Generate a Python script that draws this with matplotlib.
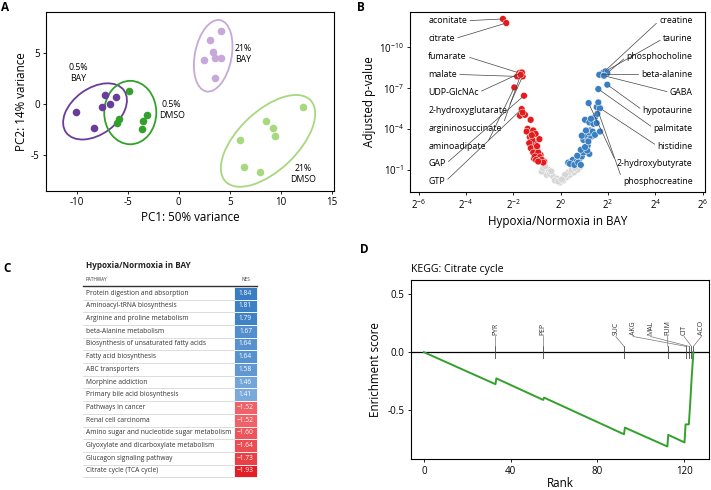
import numpy as np
import matplotlib
matplotlib.use('Agg')
import matplotlib.pyplot as plt
from matplotlib.patches import Ellipse, Rectangle
import matplotlib.colors as mcolors

plt.rcParams['font.family'] = ['Open Sans', 'DejaVu Sans']
plt.rcParams['axes.unicode_minus'] = False
plt.rcParams['mathtext.fontset'] = 'custom'
plt.rcParams['mathtext.rm'] = 'Open Sans'
plt.rcParams['mathtext.it'] = 'Open Sans:italic'
plt.rcParams['mathtext.default'] = 'regular'

# ---------------- data: A (PCA) ----------------
bay05_x = [-10.1, -8.3, -7.5, -7.2, -6.7, -6.1]
bay05_y = [-0.8, -2.3, -0.3, 0.9, 0.0, 0.7]
dmso05_x = [-4.9, -5.9, -6.0, -3.5, -3.6, -3.1]
dmso05_y = [1.3, -1.5, -1.9, -1.7, -2.4, -1.1]
bay21_x = [4.1, 3.1, 3.4, 3.5, 4.15, 2.5, 3.5]
bay21_y = [7.1, 6.3, 5.1, 4.5, 4.5, 4.3, 2.5]
dmso21_x = [12.2, 8.5, 9.2, 9.4, 6.0, 6.4, 8.0]
dmso21_y = [-0.26, -1.67, -2.3, -3.1, -3.5, -6.2, -6.6]
# ellipse: centre x, centre y, width, height, angle
ell_bay05 = (-8.2, -0.72, 7.0, 4.5, 36)
ell_dmso05 = (-4.75, -0.83, 5.1, 6.2, 0)
ell_bay21 = (3.37, 4.72, 7.1, 3.6, 79)
ell_dmso21 = (8.74, -3.6, 11.5, 5.8, 43.6)

# ---------------- data: B (volcano), log2 fold change and -log10 padj ----------------
left_names = ['aconitate', 'citrate', 'fumarate', 'malate', 'UDP-GlcNAc',
              '2-hydroxyglutarate', 'argininosuccinate', 'aminoadipate', 'GAP', 'GTP']
left_lfc = [-2.44, -2.30, -1.75, -1.84, -1.64, -1.61, -1.69, -1.96, -1.55, -1.65]
left_nlp = [12.09, 11.79, 8.12, 7.87, 8.16, 7.87, 7.99, 7.06, 6.45, 5.47]
right_names = ['creatine', 'taurine', 'phosphocholine', 'beta-alanine', 'GABA',
               'hypotaurine', 'palmitate', 'histidine', '2-hydroxybutyrate', 'phosphocreatine']
right_lfc = [1.78, 1.89, 1.97, 1.63, 1.83, 1.97, 1.59, 1.66, 1.18, 1.52]
right_nlp = [8.12, 8.24, 8.12, 7.99, 7.92, 7.26, 6.94, 5.54, 5.91, 5.62]
other_lfc = [-1.61, -1.72, -1.51, -1.27, -1.40, -1.44, -1.16, -1.06, -1.30, -1.20,
             -0.90, -1.33, -1.12, -1.26, -1.01, -1.16, -0.95, -1.09, -0.88, -1.04,
             -0.80, -0.74, -0.95, -1.22, -1.00, -0.85, -1.13, -0.70,
             -0.74, -0.80, -0.52, -0.45, -0.31, -0.17, -0.03, 0.11, 0.25, 0.39,
             0.56, 0.70, 0.82, -0.59, -0.24, 0.32, 0.47, 0.18, -0.66, -0.40,
             0.60, -0.10, 0.05,
             0.32, 0.51, 0.68, 0.79, 0.89, 0.70, 0.96, 1.12, 0.85, 1.03,
             0.96, 1.12, 1.27, 1.03, 1.21, 1.35, 1.07, 1.45, 0.89, 1.17,
             1.03, 1.21, 1.38, 1.45, 1.52, 1.55, 1.66, 1.59, 1.28, 1.00,
             1.10, 1.24, 1.31, 1.14, 1.21, 0.39, 0.58, 0.74, 0.85]
other_nlp = [5.22, 4.98, 5.05, 4.68, 4.02, 3.82, 3.90, 3.65, 3.41, 3.21,
             3.26, 2.97, 2.97, 2.60, 2.53, 2.28, 2.28, 1.99, 1.94, 1.74,
             1.74, 1.54, 1.62, 3.55, 2.75, 2.10, 1.85, 1.62,
             1.13, 0.88, 1.01, 0.71, 0.51, 0.37, 0.07, 0.22, 0.47, 0.64,
             0.81, 1.01, 1.21, 0.64, 0.22, 0.81, 1.01, 0.64, 1.28, 0.90,
             1.15, 0.15, 0.30,
             1.54, 1.74, 1.62, 1.84, 1.99, 2.04, 2.28, 2.43, 2.48, 2.68,
             3.21, 3.34, 3.51, 3.58, 3.75, 3.82, 3.90, 3.58, 3.51, 3.09,
             4.68, 4.49, 4.39, 4.88, 4.44, 5.12, 3.82, 5.96, 4.76, 3.63,
             3.75, 3.90, 3.46, 2.79, 2.18, 1.45, 1.37, 1.54, 1.37]

# ---------------- data: C (table) ----------------
pathways = ['Protein digestion and absorption', 'Aminoacyl-tRNA biosynthesis',
            'Arginine and proline metabolism', 'beta-Alanine metabolism',
            'Biosynthesis of unsaturated fatty acids', 'Fatty acid biosynthesis',
            'ABC transporters', 'Morphine addiction', 'Primary bile acid biosynthesis',
            'Pathways in cancer', 'Renal cell carcinoma',
            'Amino sugar and nucleotide sugar metabolism',
            'Glyoxylate and dicarboxylate metabolism', 'Glucagon signaling pathway',
            'Citrate cycle (TCA cycle)']
nes = [1.84, 1.81, 1.79, 1.67, 1.64, 1.64, 1.58, 1.46, 1.41,
       -1.52, -1.52, -1.60, -1.64, -1.73, -1.93]

# ---------------- data: D (enrichment curve) ----------------
es_rank = [0, 33, 33.4, 55, 55.4, 92.3, 92.7, 112.3, 112.7, 120.2, 120.7, 122.2, 122.8, 123.5, 124.3]
es_score = [0, -0.275, -0.225, -0.41, -0.39, -0.705, -0.648, -0.81, -0.71, -0.775, -0.62, -0.62, -0.45, -0.22, 0.0]
hit_names = ['PYR', 'PEP', 'SUC', 'AKG', 'MAL', 'FUM', 'CIT', 'ACO']
hit_rank = [33, 55, 92.3, 120.8, 122.3, 112.5, 123.4, 124.3]

W, H = 711, 490
fig = plt.figure(figsize=(W / 100, H / 100), dpi=100)


def px_axes(l, t, r, b):
    return fig.add_axes([l / W, 1 - b / H, (r - l) / W, (b - t) / H])


def style(ax):
    for s in ax.spines.values():
        s.set_linewidth(0.8)
    ax.tick_params(labelsize=7, length=2.5, width=0.6, pad=2)


# table axes in pixel units
axT = fig.add_axes([0, 0, 1, 1])
axT.set_xlim(0, W)
axT.set_ylim(H, 0)
axT.axis('off')

# ---------------- A ----------------
axA = px_axes(46, 12, 334, 191)
groups = [(bay05_x, bay05_y, ell_bay05, '#6a3d9a'),
          (dmso05_x, dmso05_y, ell_dmso05, '#33a02c'),
          (bay21_x, bay21_y, ell_bay21, '#c7a8d8'),
          (dmso21_x, dmso21_y, ell_dmso21, '#a6d97e')]
for gx, gy, e, c in groups:
    axA.scatter(gx, gy, s=30, color=c, lw=0, zorder=3)
    axA.add_patch(Ellipse((e[0], e[1]), e[2], e[3], angle=e[4], fill=False,
                          edgecolor=c, lw=1.3, zorder=2))
for tx, ty, t in [(-9.8, 3.0, '0.5%\nBAY'), (-0.7, -0.6, '0.5%\nDMSO'),
                  (6.3, 4.9, '21%\nBAY'), (12.2, -6.8, '21%\nDMSO')]:
    axA.text(tx, ty, t, fontsize=6.3, ha='center', va='center', linespacing=1.3)
axA.set_xlim(-13, 15.2)
axA.set_ylim(-8.5, 9.0)
axA.set_xticks([-10, -5, 0, 5, 10, 15])
axA.set_yticks([-5, 0, 5])
axA.set_xlabel('PC1: 50% variance', fontsize=8.4, labelpad=2)
axA.set_ylabel('PC2: 14% variance', fontsize=8.4, labelpad=2)
style(axA)

# ---------------- B ----------------
axB = px_axes(410, 12, 705, 192)
red, blue, grey = '#e41a1c', '#3a7fc1', '#d6d6d6'
all_lfc = np.array(other_lfc + left_lfc + right_lfc)
all_nlp = np.array(other_nlp + left_nlp + right_nlp)
cols = np.where(all_nlp < 1.3, grey, np.where(all_lfc < 0, red, blue))
order = np.argsort(cols == grey)[::-1]
axB.scatter(2.0 ** all_lfc[order], 10.0 ** (-all_nlp[order]), s=24, c=cols[order],
            edgecolors='white', linewidths=0.35, zorder=3)
axB.set_xscale('log', base=2)
axB.set_yscale('log')
axB.set_xlim(2 ** -6.37, 2 ** 6.1)
axB.set_ylim(10 ** 0.62, 10 ** -12.6)
xt = np.arange(-6, 7, 2)
axB.set_xticks(2.0 ** xt)
axB.set_xticklabels(['$2^{%d}$' % k for k in xt])
yt = np.array([-10, -7, -4, -1])
axB.set_yticks(10.0 ** yt)
axB.set_yticklabels(['$10^{%d}$' % k for k in yt])
axB.minorticks_off()
axB.set_xlabel('Hypoxia/Normoxia in BAY', fontsize=8.4, labelpad=2)
axB.set_ylabel('Adjusted p-value', fontsize=8.4, labelpad=2)
style(axB)
label_y = np.linspace(11.96, 0.125, 10)
for i, name in enumerate(left_names):
    axB.annotate(name, xy=(2.0 ** left_lfc[i], 10.0 ** -left_nlp[i]),
                 xytext=(2 ** -5.6, 10.0 ** -label_y[i]), fontsize=6.4, ha='left', va='center',
                 arrowprops=dict(arrowstyle='-', color='#444444', lw=0.5, shrinkA=0, shrinkB=2,
                                 relpos=(1, 0.5)), zorder=4)
for i, name in enumerate(right_names):
    axB.annotate(name, xy=(2.0 ** right_lfc[i], 10.0 ** -right_nlp[i]),
                 xytext=(2 ** 5.58, 10.0 ** -label_y[i]), fontsize=6.3, ha='right', va='center',
                 arrowprops=dict(arrowstyle='-', color='#444444', lw=0.5, shrinkA=0, shrinkB=2,
                                 relpos=(0, 0.5)), zorder=4)

# ---------------- C ----------------
x0, x1, xn = 83, 257, 234
top0, row_h = 286.8, 12.7
axT.text(86, 265.5, 'Hypoxia/Normoxia in BAY', fontsize=5.9, weight='bold', va='center', color='#222222')
axT.text(86, 279.5, 'PATHWAY', fontsize=3.3, va='center', color='#333333')
axT.text((xn + x1) / 2, 279.5, 'NES', fontsize=3.3, va='center', ha='center', color='#333333')
axT.plot([x0, x1], [top0 - 0.6, top0 - 0.6], color='#333333', lw=1.0)
blue_lo, blue_hi = np.array(mcolors.to_rgb('#7aaadb')), np.array(mcolors.to_rgb('#3a7dc2'))
red_lo, red_hi = np.array(mcolors.to_rgb('#f06168')), np.array(mcolors.to_rgb('#e31e26'))
for i, (p, v) in enumerate(zip(pathways, nes)):
    top = top0 + i * row_h
    axT.text(86, top + row_h / 2, p, fontsize=4.8, va='center', color='#333333')
    axT.plot([x0, xn], [top + row_h, top + row_h], color='#cfcfcf', lw=0.5)
    if v > 0:
        f = (v - 1.41) / (1.84 - 1.41)
        c = blue_lo + f * (blue_hi - blue_lo)
    else:
        f = (-v - 1.52) / (1.93 - 1.52)
        c = red_lo + f * (red_hi - red_lo)
    axT.add_patch(Rectangle((xn, top), x1 - xn, row_h, facecolor=c, edgecolor='white', lw=0.6))
    axT.text((xn + x1) / 2, top + row_h / 2, ('%.2f' % v).replace('-', '\u2212'),
             fontsize=4.8, va='center', ha='center', color='white')

# ---------------- D ----------------
axD = px_axes(410.7, 280, 709, 459.3)
axD.axhline(0, color='black', lw=0.9, zorder=1)
axD.plot(es_rank, es_score, color='#33a02c', lw=1.4, zorder=3)
lab_x = [33, 55, 88.5, 96.5, 104.5, 112.3, 120, 128]
for name, r, lx in zip(hit_names, hit_rank, lab_x):
    axD.plot([r, r], [-0.05, 0.05], color='#444444', lw=0.6, zorder=2)
    axD.plot([lx, r], [0.135, 0.05], color='#777777', lw=0.5, zorder=2)
    axD.text(lx, 0.15, name, rotation=90, fontsize=5, ha='center', va='bottom', color='#333333')
axD.set_xlim(-6.1, 131.5)
axD.set_ylim(-0.92, 0.62)
axD.set_xticks([0, 40, 80, 120])
axD.set_yticks([-0.5, 0, 0.5])
axD.set_yticklabels(['-0.5', '0.0', '0.5'])
axD.set_xlabel('Rank', fontsize=8.4, labelpad=0)
axD.set_ylabel('Enrichment score', fontsize=8.4, labelpad=4)
axD.set_title('KEGG: Citrate cycle', loc='left', fontsize=7.6, pad=6)
style(axD)

# panel letters
for lx, ly, t in [(1, 1, 'A'), (357, 1, 'B'), (3, 262, 'C'), (360, 243, 'D')]:
    fig.text(lx / W, 1 - ly / H, t, fontsize=8.5, weight='bold', va='top', ha='left')

fig.savefig('out.png', dpi=100)
